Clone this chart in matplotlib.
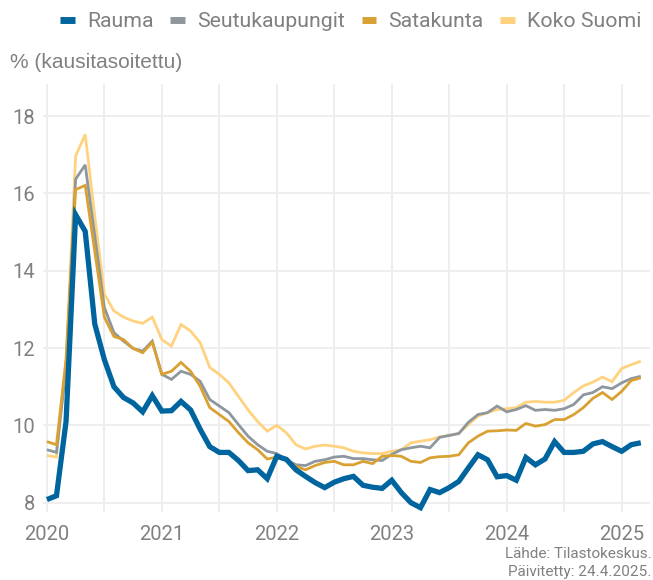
import matplotlib
matplotlib.use("Agg")
import matplotlib.pyplot as plt
import numpy as np

# Monthly data, Jan 2020 - Mar 2025
start_year = 2020
rauma = [8.08, 8.18, 10.1, 15.45, 15.02, 12.62, 11.7, 11.0, 10.72, 10.58, 10.35, 10.77,
         10.37, 10.38, 10.62, 10.4, 9.9, 9.45, 9.3, 9.3, 9.09, 8.83, 8.85, 8.62,
         9.2, 9.12, 8.85, 8.68, 8.52, 8.39, 8.53, 8.62, 8.68, 8.45, 8.4, 8.37,
         8.58, 8.26, 8.0, 7.87, 8.34, 8.26, 8.39, 8.55, 8.9, 9.24, 9.11, 8.67,
         8.7, 8.58, 9.17, 8.98, 9.13, 9.58, 9.3, 9.3, 9.33, 9.52, 9.58, 9.45,
         9.33, 9.5, 9.55]
seutukaupungit = [9.37, 9.3, 11.5, 16.37, 16.74, 14.9, 13.05, 12.4, 12.18, 11.99, 11.92, 12.18,
                  11.32, 11.19, 11.4, 11.32, 11.14, 10.67, 10.5, 10.33, 10.02, 9.72, 9.5, 9.33,
                  9.27, 9.11, 8.98, 8.96, 9.07, 9.11, 9.18, 9.2, 9.14, 9.14, 9.11, 9.09,
                  9.25, 9.37, 9.42, 9.46, 9.42, 9.69, 9.74, 9.79, 10.08, 10.28, 10.33, 10.5,
                  10.35, 10.41, 10.51, 10.39, 10.41, 10.39, 10.43, 10.54, 10.79, 10.85, 11.0, 10.95,
                  11.1, 11.21, 11.27]
satakunta = [9.58, 9.5, 11.7, 16.1, 16.21, 14.5, 12.8, 12.3, 12.22, 11.99, 11.88, 12.15,
             11.32, 11.4, 11.63, 11.4, 11.01, 10.46, 10.28, 10.1, 9.81, 9.55, 9.37, 9.13,
             9.18, 9.1, 8.94, 8.85, 8.96, 9.04, 9.07, 8.98, 8.98, 9.07, 9.01, 9.2,
             9.22, 9.2, 9.07, 9.04, 9.16, 9.19, 9.2, 9.24, 9.55, 9.72, 9.85, 9.86,
             9.88, 9.87, 10.05, 9.98, 10.02, 10.15, 10.15, 10.28, 10.46, 10.7, 10.85, 10.67,
             10.88, 11.16, 11.23]
koko_suomi = [9.22, 9.18, 11.7, 16.97, 17.53, 15.4, 13.4, 12.96, 12.8, 12.7, 12.64, 12.8,
              12.22, 12.05, 12.61, 12.44, 12.14, 11.5, 11.32, 11.1, 10.75, 10.4, 10.1, 9.85,
              10.0, 9.81, 9.5, 9.39, 9.46, 9.49, 9.46, 9.42, 9.33, 9.29, 9.27, 9.27,
              9.33, 9.37, 9.55, 9.59, 9.63, 9.7, 9.74, 9.79, 10.02, 10.24, 10.33, 10.41,
              10.43, 10.46, 10.6, 10.62, 10.6, 10.6, 10.65, 10.85, 11.02, 11.12, 11.25, 11.13,
              11.47, 11.57, 11.66]

series_names = ["Rauma", "Seutukaupungit", "Satakunta", "Koko Suomi"]
series_values = [rauma, seutukaupungit, satakunta, koko_suomi]
colors = ["#00659E", "#8E969E", "#D9A132", "#FFD27F"]
widths = [3.8, 2.0, 2.0, 2.0]

year_ticks = [2020, 2021, 2022, 2023, 2024, 2025]
y_ticks = [8, 10, 12, 14, 16, 18]

font = "Roboto"
text_color = "#808080"
grid_color = "#EEEEEE"

fig = plt.figure(figsize=(6.53, 5.80), dpi=100)
ax = fig.add_axes([0.066, 0.118, 0.930, 0.737])

x = start_year + np.arange(len(rauma)) / 12.0
order = [3, 1, 2, 0]
for i in order:
    ax.plot(x, series_values[i], color=colors[i], lw=widths[i],
            solid_joinstyle="miter", solid_capstyle="butt", zorder=3 + (i == 0))

ax.set_xticks(year_ticks)
ax.set_xticklabels([str(y) for y in year_ticks], fontfamily=font, fontsize=14.5, color=text_color)
ax.set_xticks([y + 0.5 for y in year_ticks[:-1]], minor=True)
ax.set_yticks(y_ticks)
ax.set_yticklabels([str(v) for v in y_ticks], fontfamily=font, fontsize=14.5, color=text_color)
ax.set_xlim(2019.967, 2025.25)
ax.set_ylim(7.77, 18.83)
ax.tick_params(axis="both", which="both", length=0)
ax.tick_params(axis="x", pad=10)
ax.tick_params(axis="y", pad=6)
ax.grid(True, which="major", color=grid_color, lw=1.4, zorder=0)
ax.grid(True, which="minor", axis="x", color=grid_color, lw=1.4, zorder=0)
for s in ax.spines.values():
    s.set_visible(False)

fig.text(0.015, 0.893, "% (kausitasoitettu)", fontfamily="Liberation Sans",
         fontsize=15, color=text_color, ha="left", va="center")

handles = [plt.Line2D([], [], color=colors[i], lw=5, solid_capstyle="butt") for i in range(4)]
fig.legend(handles, series_names, loc="center right", bbox_to_anchor=(0.982, 0.963),
           ncol=4, frameon=False, handlelength=0.7, handletextpad=0.55,
           columnspacing=0.8, prop={"family": font, "size": 15.3},
           labelcolor=text_color, borderaxespad=0, borderpad=0)

fig.text(0.998, 0.044, "Lähde: Tilastokeskus.", fontfamily=font, fontsize=11,
         color=text_color, ha="right", va="center")
fig.text(0.998, 0.014, "Päivitetty: 24.4.2025.", fontfamily=font, fontsize=11,
         color=text_color, ha="right", va="center")

fig.savefig("out.png", dpi=100)
